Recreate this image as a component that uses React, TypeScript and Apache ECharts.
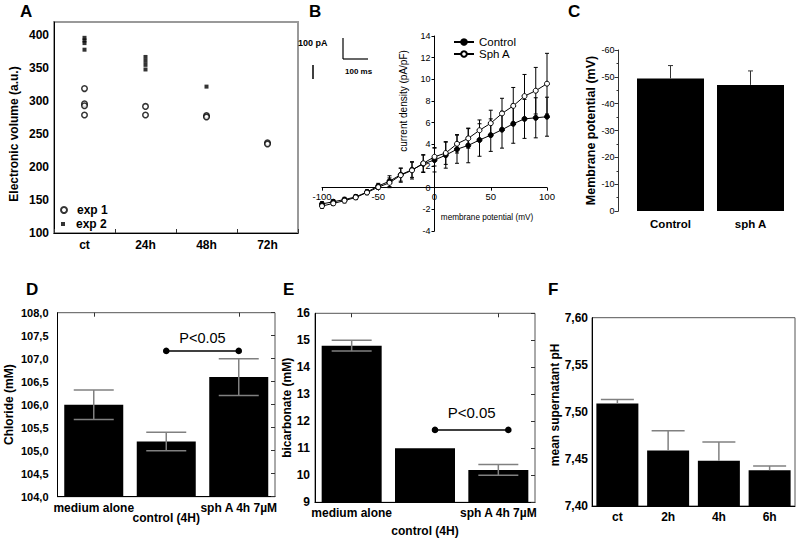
import React, { useEffect, useRef } from 'react';
import * as echarts from 'echarts';

const FONT = '"Liberation Sans", Arial, Helvetica, sans-serif';

// ---------- Panel A ----------
const aCategories = ['ct', '24h', '48h', '72h'];
const aExp1 = [[319, 296, 293, 279], [292, 279], [278, 276], [237, 235]];
const aExp2 = [[396, 392, 388, 378], [367, 361, 355, 348], [322], []];

// ---------- Panel B ----------
const bVoltages = [-100, -90, -80, -70, -60, -50, -40, -30, -20, -10, 0, 10, 20, 30, 40, 50, 60, 70, 80, 90, 100];
const bControl = [-1.5, -1.3, -1.1, -0.85, -0.4, 0.15, 0.6, 1.2, 1.65, 2.2, 2.55, 3.0, 3.55, 3.9, 4.4, 4.85, 5.35, 5.9, 6.35, 6.45, 6.55];
const bControlErr = [0.2, 0.2, 0.2, 0.2, 0.2, 0.25, 0.5, 0.6, 0.7, 0.8, 1.1, 1.2, 1.3, 1.6, 1.5, 1.5, 1.7, 1.8, 1.8, 1.85, 1.8];
const bSphA = [-1.7, -1.45, -1.2, -0.9, -0.45, 0.05, 0.45, 1.15, 1.6, 2.25, 2.85, 3.2, 4.05, 4.55, 5.3, 5.95, 6.85, 7.55, 8.45, 8.95, 9.6];
const bSphAErr = [0.2, 0.2, 0.2, 0.2, 0.2, 0.2, 0.45, 0.65, 0.8, 0.8, 0.85, 1.05, 0.85, 0.9, 0.95, 1.2, 1.4, 1.7, 2.0, 2.15, 2.8];

// ---------- Panel C ----------
const cCategories = ['Control', 'sph A'];
const cValues = [-49.4, -47.0];
const cErrors = [4.8, 5.2];

// ---------- Panel D ----------
const dCategories = ['medium alone', 'control (4H)', 'sph A 4h 7µM'];
const dValues = [106.0, 105.2, 106.6];
const dErrors = [0.32, 0.2, 0.4];
const dSignificance = [1, 2, 107.17];

// ---------- Panel E ----------
const eCategories = ['medium alone', 'control (4H)', 'sph A 4h 7µM'];
const eValues = [14.8, 11.0, 10.2];
const eErrors = [0.2, 0, 0.2];
const eSignificance = [1, 2, 11.68];

// ---------- Panel F ----------
const fCategories = ['ct', '2h', '4h', '6h'];
const fValues = [7.509, 7.459, 7.448, 7.438];
const fErrors = [0.004, 0.021, 0.02, 0.0045];

const bold = (size: number) => ({ fontFamily: FONT, fontWeight: 'bold' as const, fontSize: size, color: '#000' });
const reg = (size: number) => ({ fontFamily: FONT, fontWeight: 'normal' as const, fontSize: size, color: '#000' });
const blackLine = { lineStyle: { color: '#000', width: 1 } };

function errorBars(capWidth: number, color: string, lineWidth: number, both: boolean) {
  return (params: any, api: any) => {
    const x = api.value(0);
    const v = api.value(1);
    const e = api.value(2);
    if (!e) return { type: 'group', children: [] };
    const s = v < 0 ? -1 : 1;
    const p0 = api.coord([x, both ? v - s * e : v]);
    const p1 = api.coord([x, v + s * e]);
    const h = capWidth / 2;
    const st = { stroke: color, lineWidth };
    const children: any[] = [
      { type: 'line', shape: { x1: p0[0], y1: p0[1], x2: p1[0], y2: p1[1] }, style: st },
      { type: 'line', shape: { x1: p1[0] - h, y1: p1[1], x2: p1[0] + h, y2: p1[1] }, style: st },
    ];
    if (both) children.push({ type: 'line', shape: { x1: p0[0] - h, y1: p0[1], x2: p0[0] + h, y2: p0[1] }, style: st });
    return { type: 'group', children };
  };
}

function significance(shift: number, textGap: number, fontSize: number) {
  return (params: any, api: any) => {
    const a = api.coord([api.value(0), api.value(2)]);
    const b = api.coord([api.value(1), api.value(2)]);
    const x1 = a[0] + shift;
    const x2 = b[0] + shift;
    const y = a[1];
    return {
      type: 'group',
      children: [
        { type: 'line', shape: { x1, y1: y, x2, y2: y }, style: { stroke: '#000', lineWidth: 1.5 } },
        { type: 'circle', shape: { cx: x1, cy: y, r: 3.3 }, style: { fill: '#000' } },
        { type: 'circle', shape: { cx: x2, cy: y, r: 3.3 }, style: { fill: '#000' } },
        {
          type: 'text',
          style: {
            text: 'P<0.05', x: (x1 + x2) / 2, y: y - textGap,
            textAlign: 'center', textVerticalAlign: 'middle', align: 'center', verticalAlign: 'middle',
            fontSize, fontFamily: FONT, fill: '#000',
          },
        },
      ],
    };
  };
}

const commaFmt = (digits: number) => (v: number) => v.toFixed(digits).replace('.', ',');

function stagger(pad: number) {
  return {
    interval: 0,
    margin: 5,
    ...bold(12),
    formatter: (value: string, index: number) => (index === 1 ? `{low|${value}}` : value),
    rich: { low: { ...bold(12), padding: [pad, 0, 0, 0] } },
  };
}

function topTicks(gridIndex: number, data: string[]) {
  return {
    type: 'category', gridIndex, data, position: 'top',
    axisLine: { show: false }, axisLabel: { show: false },
    axisTick: { show: true, inside: true, alignWithLabel: true, length: 4, lineStyle: { color: '#333' } },
    splitLine: { show: false },
  };
}

function rightTicks(gridIndex: number, min: number, max: number, interval: number) {
  return {
    type: 'value', gridIndex, position: 'right', min, max, interval,
    axisLine: { show: false }, axisLabel: { show: false },
    axisTick: { show: true, inside: true, length: 4, lineStyle: { color: '#333' } },
    splitLine: { show: false },
  };
}

function letter(t: string, x: number, y: number) {
  return {
    type: 'text', x, y,
    style: { text: t, fontFamily: FONT, fontWeight: 'bold', fontSize: 17, fill: '#000', textVerticalAlign: 'middle', verticalAlign: 'middle' },
  };
}

// Panel B grid geometry (pixels) used to place the crossing axes at the origin
const B_LEFT = 322, B_TOP = 36, B_W = 225, B_H = 195;

export default function App() {
  const ref = useRef<HTMLDivElement>(null);

  useEffect(() => {
    if (!ref.current) return;
    const chart = echarts.init(ref.current, null, { renderer: 'svg' });

    const exp1Data: number[][] = [];
    aExp1.forEach((vals, i) => vals.forEach((v) => exp1Data.push([i, v])));
    const exp2Data: number[][] = [];
    aExp2.forEach((vals, i) => vals.forEach((v) => exp2Data.push([i, v])));

    // offsets so that B's axes cross at (0, 0)
    const bXMin = -100, bXMax = 100, bYMin = -4, bYMax = 14;
    const yAxisOffset = -((0 - bXMin) / (bXMax - bXMin)) * B_W;
    const xAxisOffset = -((0 - bYMin) / (bYMax - bYMin)) * B_H;

    const option: any = {
      animation: false,
      backgroundColor: '#fff',
      textStyle: { fontFamily: FONT },
      grid: [
        { left: 54, top: 22, width: 244, height: 211, show: true, borderColor: '#999', borderWidth: 2 },
        { left: B_LEFT, top: B_TOP, width: B_W, height: B_H },
        { left: 630.5, top: 50, width: 160, height: 161 },
        { left: 57.5, top: 312.7, width: 217.5, height: 184, show: true, borderColor: '#555', borderWidth: 1 },
        { left: 315, top: 313.3, width: 220, height: 189, show: true, borderColor: '#555', borderWidth: 1 },
        { left: 592, top: 317.7, width: 203, height: 188.3, show: true, borderColor: '#555', borderWidth: 1 },
      ],
      xAxis: [
        {
          type: 'category', gridIndex: 0, data: aCategories,
          axisLine: blackLine,
          axisTick: { show: true, inside: true, length: 4, lineStyle: { color: '#333' } },
          axisLabel: { ...bold(12), margin: 6 },
        },
        {
          type: 'value', gridIndex: 1, min: bXMin, max: bXMax, interval: 50, offset: xAxisOffset,
          axisLine: { onZero: false, ...blackLine },
          axisTick: { show: true, length: 3, lineStyle: { color: '#000' } },
          axisLabel: { ...reg(9.5), margin: 4 },
          splitLine: { show: false },
        },
        {
          type: 'category', gridIndex: 2, data: cCategories,
          axisLine: { show: false }, axisTick: { show: false },
          axisLabel: { ...bold(11.5), margin: 7 },
        },
        {
          type: 'category', gridIndex: 3, data: dCategories,
          axisLine: blackLine, axisTick: { show: false },
          axisLabel: stagger(10),
        },
        {
          type: 'category', gridIndex: 4, data: eCategories,
          axisLine: blackLine, axisTick: { show: false },
          axisLabel: stagger(18),
        },
        {
          type: 'category', gridIndex: 5, data: fCategories,
          axisLine: blackLine, axisTick: { show: false },
          axisLabel: { ...bold(12), margin: 5 },
        },
        topTicks(3, dCategories),
        topTicks(4, eCategories),
      ],
      yAxis: [
        {
          type: 'value', gridIndex: 0, min: 100, max: 420, interval: 50,
          axisLine: { show: true, ...blackLine }, axisTick: { show: false },
          axisLabel: { ...bold(12), margin: 5, showMaxLabel: false },
          splitLine: { show: false },
          name: 'Electronic volume (a.u.)', nameLocation: 'middle', nameGap: 34,
          nameTextStyle: { ...bold(12), padding: [0, 13, 0, 0] },
        },
        {
          type: 'value', gridIndex: 1, min: bYMin, max: bYMax, interval: 2, offset: yAxisOffset,
          axisLine: { show: true, onZero: false, ...blackLine },
          axisTick: { show: true, length: 3, lineStyle: { color: '#000' } },
          axisLabel: { ...reg(9), margin: 4 },
          splitLine: { show: false },
        },
        {
          type: 'value', gridIndex: 2, min: -60, max: 0, interval: 10, inverse: true, offset: 12,
          axisLine: { show: true, lineStyle: { color: '#333', width: 1 } },
          axisTick: { show: true, length: 4, lineStyle: { color: '#333' } },
          minorTick: { show: true, splitNumber: 2, length: 2, lineStyle: { color: '#333' } },
          axisLabel: { ...reg(9), margin: 4 },
          splitLine: { show: false },
          name: 'Membrane potential (mV)', nameLocation: 'middle', nameGap: 20,
          nameTextStyle: bold(12.5),
        },
        {
          type: 'value', gridIndex: 3, min: 104, max: 108, interval: 0.5,
          axisLine: { show: true, ...blackLine }, axisTick: { show: false },
          axisLabel: { ...bold(11), margin: 9, formatter: commaFmt(1) },
          splitLine: { show: false },
          name: 'Chloride (mM)', nameLocation: 'middle', nameGap: 43,
          nameTextStyle: bold(12),
        },
        {
          type: 'value', gridIndex: 4, min: 9, max: 16, interval: 1,
          axisLine: { show: true, ...blackLine }, axisTick: { show: false },
          axisLabel: { ...bold(12), margin: 5 },
          splitLine: { show: false },
          name: 'bicarbonate (mM)', nameLocation: 'middle', nameGap: 22,
          nameTextStyle: bold(12),
        },
        {
          type: 'value', gridIndex: 5, min: 7.4, max: 7.6, interval: 0.05,
          axisLine: { show: true, ...blackLine }, axisTick: { show: false },
          axisLabel: { ...bold(12), margin: 4, formatter: commaFmt(2) },
          splitLine: { show: false },
          name: 'mean supernatant pH', nameLocation: 'middle', nameGap: 31,
          nameTextStyle: { ...bold(12), padding: [0, 0, 0, 14] },
        },
        rightTicks(3, 104, 108, 0.5),
        rightTicks(4, 9, 16, 1),
      ],
      legend: [
        {
          data: ['exp 1'], left: 55, top: 199, orient: 'vertical',
          itemWidth: 6, itemHeight: 6, textStyle: { ...bold(12), padding: [0, 0, 0, 5] },
        },
        {
          data: ['exp 2'], left: 56, top: 213, orient: 'vertical',
          itemWidth: 4, itemHeight: 4, textStyle: { ...bold(12), padding: [0, 0, 0, 6] },
        },
        {
          data: ['Control', 'Sph A'], left: 448, top: 31, orient: 'vertical',
          itemWidth: 20, itemHeight: 7, itemGap: 0,
          textStyle: { ...reg(11.5), lineHeight: 12 },
        },
      ],
      series: [
        {
          name: 'exp 1', type: 'scatter', xAxisIndex: 0, yAxisIndex: 0, data: exp1Data,
          symbol: 'circle', symbolSize: 5.5,
          itemStyle: { color: '#fff', borderColor: '#000', borderWidth: 1.5 },
        },
        {
          name: 'exp 2', type: 'scatter', xAxisIndex: 0, yAxisIndex: 0, data: exp2Data,
          symbol: 'rect', symbolSize: 4, itemStyle: { color: '#000' },
        },
        {
          name: 'Control err', type: 'custom', xAxisIndex: 1, yAxisIndex: 1, silent: true, z: 1,
          renderItem: errorBars(4, '#000', 1, true), encode: { x: 0, y: 1 },
          data: bVoltages.map((v, i) => [v, bControl[i], bControlErr[i]]),
        },
        {
          name: 'Sph A err', type: 'custom', xAxisIndex: 1, yAxisIndex: 1, silent: true, z: 1,
          renderItem: errorBars(4, '#000', 1, true), encode: { x: 0, y: 1 },
          data: bVoltages.map((v, i) => [v, bSphA[i], bSphAErr[i]]),
        },
        {
          name: 'Control', type: 'line', xAxisIndex: 1, yAxisIndex: 1, z: 3,
          data: bVoltages.map((v, i) => [v, bControl[i]]),
          symbol: 'circle', symbolSize: 5, showAllSymbol: true,
          itemStyle: { color: '#000', borderColor: '#000', borderWidth: 1 },
          lineStyle: { color: '#000', width: 1 },
        },
        {
          name: 'Sph A', type: 'line', xAxisIndex: 1, yAxisIndex: 1, z: 4,
          data: bVoltages.map((v, i) => [v, bSphA[i]]),
          symbol: 'circle', symbolSize: 5, showAllSymbol: true,
          itemStyle: { color: '#fff', borderColor: '#000', borderWidth: 1 },
          lineStyle: { color: '#000', width: 1 },
        },
        {
          name: 'C bars', type: 'bar', xAxisIndex: 2, yAxisIndex: 2, data: cValues,
          barWidth: 67, itemStyle: { color: '#000' },
        },
        {
          name: 'C err', type: 'custom', xAxisIndex: 2, yAxisIndex: 2, silent: true, z: 3,
          renderItem: errorBars(5, '#333', 1, false), encode: { x: 0, y: 1 },
          data: cValues.map((v, i) => [i, v, cErrors[i]]),
        },
        {
          name: 'D bars', type: 'bar', xAxisIndex: 3, yAxisIndex: 3, data: dValues,
          barWidth: 59, itemStyle: { color: '#000' },
        },
        {
          name: 'D err', type: 'custom', xAxisIndex: 3, yAxisIndex: 3, silent: true, z: 3,
          renderItem: errorBars(40, '#808080', 1.5, true), encode: { x: 0, y: 1 },
          data: dValues.map((v, i) => [i, v, dErrors[i]]),
        },
        {
          name: 'D sig', type: 'custom', xAxisIndex: 3, yAxisIndex: 3, silent: true, z: 4,
          renderItem: significance(0, 13, 14.5), encode: { x: 0, y: 2 },
          data: [dSignificance],
        },
        {
          name: 'E bars', type: 'bar', xAxisIndex: 4, yAxisIndex: 4, data: eValues,
          barWidth: 60, itemStyle: { color: '#000' },
        },
        {
          name: 'E err', type: 'custom', xAxisIndex: 4, yAxisIndex: 4, silent: true, z: 3,
          renderItem: errorBars(40, '#808080', 1.5, true), encode: { x: 0, y: 1 },
          data: eValues.map((v, i) => [i, v, eErrors[i]]),
        },
        {
          name: 'E sig', type: 'custom', xAxisIndex: 4, yAxisIndex: 4, silent: true, z: 4,
          renderItem: significance(10, 17.5, 15), encode: { x: 0, y: 2 },
          data: [eSignificance],
        },
        {
          name: 'F bars', type: 'bar', xAxisIndex: 5, yAxisIndex: 5, data: fValues,
          barWidth: 42, itemStyle: { color: '#000' },
        },
        {
          name: 'F err', type: 'custom', xAxisIndex: 5, yAxisIndex: 5, silent: true, z: 3,
          renderItem: errorBars(33, '#808080', 1.5, false), encode: { x: 0, y: 1 },
          data: fValues.map((v, i) => [i, v, fErrors[i]]),
        },
      ],
      graphic: [
        letter('A', 20, 11),
        letter('B', 309, 11),
        letter('C', 568, 11),
        letter('D', 26, 289),
        letter('E', 283, 289),
        letter('F', 548, 289),
        {
          type: 'text', x: 403, y: 101, rotation: Math.PI / 2,
          style: {
            text: 'current density (pA/pF)', fontFamily: FONT, fontSize: 10, fill: '#000',
            textAlign: 'center', textVerticalAlign: 'middle', align: 'center', verticalAlign: 'middle',
          },
        },
        {
          type: 'text', x: 487, y: 217,
          style: {
            text: 'membrane potential (mV)', fontFamily: FONT, fontSize: 8.2, fill: '#000',
            textAlign: 'center', textVerticalAlign: 'middle', align: 'center', verticalAlign: 'middle',
          },
        },
        { type: 'line', shape: { x1: 343, y1: 38, x2: 343, y2: 59 }, style: { stroke: '#000', lineWidth: 1.2 } },
        { type: 'line', shape: { x1: 343, y1: 59, x2: 368, y2: 59 }, style: { stroke: '#000', lineWidth: 1.2 } },
        { type: 'line', shape: { x1: 313, y1: 65, x2: 313, y2: 79 }, style: { stroke: '#000', lineWidth: 1.5 } },
        {
          type: 'text', x: 298, y: 43,
          style: { text: '100 pA', fontFamily: FONT, fontWeight: 'bold', fontSize: 9, fill: '#000', textVerticalAlign: 'middle', verticalAlign: 'middle' },
        },
        {
          type: 'text', x: 345, y: 71,
          style: { text: '100 ms', fontFamily: FONT, fontWeight: 'bold', fontSize: 8, fill: '#000', textVerticalAlign: 'middle', verticalAlign: 'middle' },
        },
      ],
    };

    chart.setOption(option);
    return () => chart.dispose();
  }, []);

  return (
    <div
      ref={ref}
      style={{ position: 'fixed', left: 0, top: 0, width: 796, height: 539, background: '#fff' }}
    />
  );
}
